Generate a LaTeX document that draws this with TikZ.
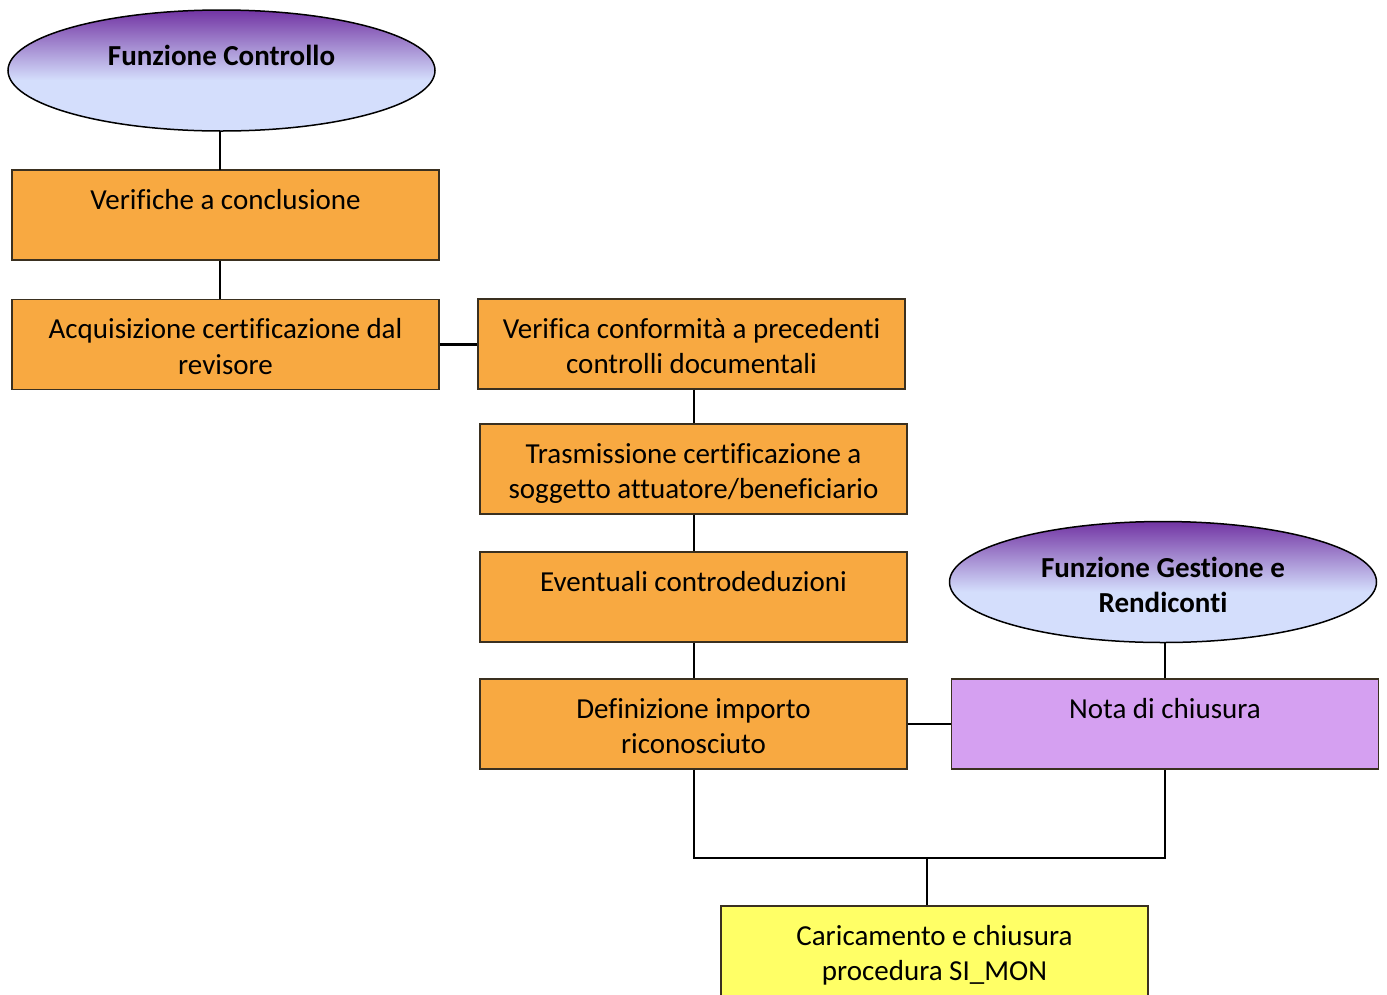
\documentclass[tikz,border=0pt]{standalone}
\usepackage{fontspec}
\setmainfont[Ligatures={NoCommon,NoContextual,NoRare},RawFeature={-liga}]{Carlito}
\usetikzlibrary{shapes.geometric}
\definecolor{boxorange}{HTML}{F8A941}
\definecolor{boxviolet}{HTML}{D5A0F1}
\definecolor{boxyellow}{HTML}{FFFF66}
\definecolor{ovaltop}{HTML}{7234A3}
\definecolor{ovallow}{HTML}{D4DEFC}
\definecolor{edgegray}{HTML}{3A3020}
% vertical shade for the two function ovals: dark violet on top fading to lavender
\pgfdeclareverticalshading{ovalshade}{100bp}{color(0bp)=(ovallow); color(46bp)=(ovallow); color(75bp)=(ovaltop); color(100bp)=(ovaltop)}
\newcommand{\boxtext}[1]{\parbox[c][90pt][t]{410pt}{\centering\rule{0pt}{39pt}#1}}
\newcommand{\ovaltext}[1]{\parbox[c][84pt][t]{290pt}{\centering\bfseries\rule{0pt}{37pt}#1}}
\begin{document}
\begin{tikzpicture}[x=1pt,y=-1pt,
  font=\fontsize{29}{35.5}\selectfont,
  stepbox/.style={rectangle, draw=edgegray, line width=1.3pt, inner sep=0pt,
    minimum width=427pt, minimum height=90pt},
  oval/.style={ellipse, draw=black, line width=1.5pt, inner sep=0pt,
    minimum width=427pt, minimum height=121pt, shading=ovalshade},
  link/.style={draw=black, line width=2.8pt}]
\useasboundingbox (0,0) rectangle (1387,994);

\node[oval] (fc) at (221.5,70.5) {\ovaltext{Funzione Controllo}};
\node[stepbox, fill=boxorange] (b1) at (225.5,215) {\boxtext{Verifiche a conclusione}};
\node[stepbox, fill=boxorange] (b2) at (225.5,344.5) {\boxtext{Acquisizione certificazione dal\\revisore}};
\node[stepbox, fill=boxorange] (b3) at (691.5,344) {\boxtext{Verifica conformità a precedenti\\controlli documentali}};
\node[stepbox, fill=boxorange] (b4) at (693.5,469) {\boxtext{Trasmissione certificazione a\\soggetto attuatore/beneficiario}};
\node[stepbox, fill=boxorange] (b5) at (693.5,597) {\boxtext{Eventuali controdeduzioni}};
\node[stepbox, fill=boxorange] (b6) at (693.5,724) {\boxtext{Definizione importo\\riconosciuto}};
\node[oval] (fg) at (1163,582) {\ovaltext{Funzione Gestione e\\Rendiconti}};
\node[stepbox, fill=boxviolet] (b7) at (1165,724) {\boxtext{Nota di chiusura}};
\node[stepbox, fill=boxyellow] (b8) at (934.5,951) {\boxtext{Caricamento e chiusura\\procedura SI\_MON}};

\coordinate (j) at (927,858);

\path[link] (220,131) -- (220,170);
\path[link] (b1.south -| 220,0) -- (b2.north -| 220,0);
\path[link] (b2.east) -- (b3.west |- b2.east);
\path[link] (b3.south -| 694,0) -- (b4.north -| 694,0);
\path[link] (b4.south -| 694,0) -- (b5.north -| 694,0);
\path[link] (b5.south -| 694,0) -- (b6.north -| 694,0);
\path[link] (fg.south -| 1165,0) -- (b7.north);
\path[link] (b6.east) -- (b7.west);
\path[link] (b6.south -| 694,0) |- (j) -| (b7.south);
\path[link] (j) -- (j |- b8.north);
\end{tikzpicture}
\end{document}
